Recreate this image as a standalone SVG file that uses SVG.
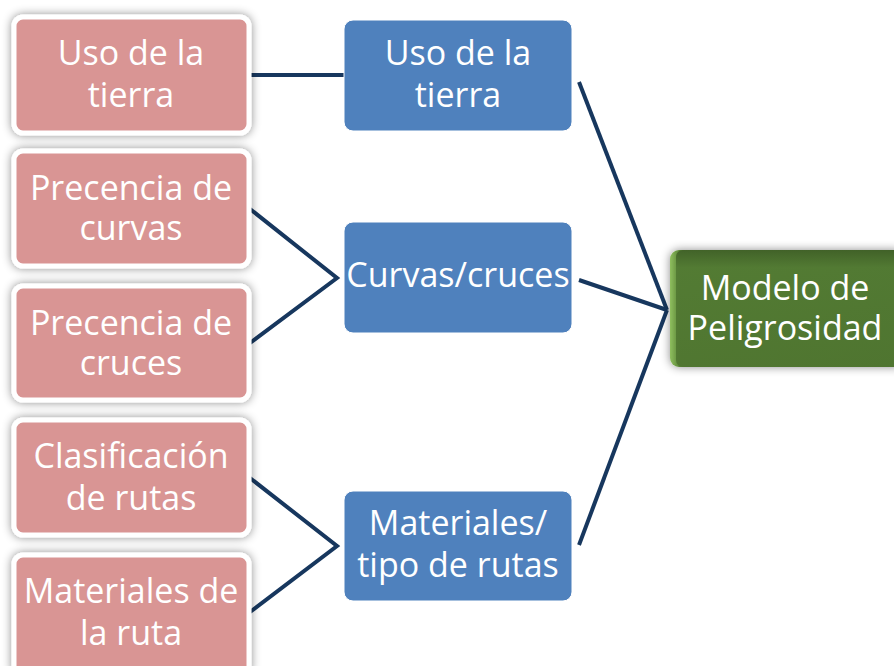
<svg xmlns="http://www.w3.org/2000/svg" width="894" height="666" viewBox="0 0 894 666">
<defs>
<filter id="sh" x="-10%" y="-15%" width="120%" height="130%">
<feDropShadow dx="0" dy="0" stdDeviation="5" flood-color="#000" flood-opacity="0.45"/>
</filter>
<linearGradient id="gg" x1="0" y1="0" x2="0" y2="1">
<stop offset="0" stop-color="#3f5f27"/>
<stop offset="0.15" stop-color="#527a33"/>
<stop offset="1" stop-color="#4f7530"/>
</linearGradient>
<linearGradient id="gs" x1="0" y1="0" x2="1" y2="0">
<stop offset="0" stop-color="#8fbf5f"/>
<stop offset="0.04" stop-color="#5a8537"/>
<stop offset="1" stop-color="#4f7530"/>
</linearGradient>
</defs>
<style>
.pk{fill:#d99594;stroke:#fff;stroke-width:5}
.bl{fill:#4f81bd;stroke:#fff;stroke-width:1}
.t{font-family:"Open Sans",Lato,sans-serif;font-size:34px;fill:#fff;text-anchor:middle;font-variant-ligatures:none}
.c{stroke:#17375e;stroke-width:4;fill:none}
</style>
<rect width="894" height="666" fill="#fff"/>
<g id="connectors">
<line class="c" x1="250" y1="75" x2="344" y2="75"/>
<polyline class="c" points="250,209 337,278 250,343"/>
<polyline class="c" points="250,478 337,546 250,612"/>
<line class="c" x1="579" y1="82" x2="667" y2="310"/>
<line class="c" x1="579" y1="280" x2="667" y2="310"/>
<line class="c" x1="579" y1="545" x2="667" y2="310"/>
</g>
<g id="p1"><rect class="pk" filter="url(#sh)" x="14" y="17" width="235" height="116" rx="9"/><text class="t" x="131" y="65">Uso de la</text><text class="t" x="131" y="107">tierra</text></g>
<g id="p2"><rect class="pk" filter="url(#sh)" x="14" y="151" width="235" height="115" rx="9"/><text class="t" x="131" y="200">Precencia de</text><text class="t" x="131" y="240">curvas</text></g>
<g id="p3"><rect class="pk" filter="url(#sh)" x="14" y="286" width="235" height="114" rx="9"/><text class="t" x="131" y="335">Precencia de</text><text class="t" x="131" y="375">cruces</text></g>
<g id="p4"><rect class="pk" filter="url(#sh)" x="14" y="420" width="235" height="115" rx="9"/><text class="t" x="131" y="468">Clasificación</text><text class="t" x="131" y="510">de rutas</text></g>
<g id="p5"><rect class="pk" filter="url(#sh)" x="14" y="555" width="235" height="120" rx="9"/><text class="t" x="131" y="603">Materiales de</text><text class="t" x="131" y="645">la ruta</text></g>
<g id="b1"><rect class="bl" x="344" y="20" width="228" height="111" rx="9"/><text class="t" x="458" y="65">Uso de la</text><text class="t" x="458" y="107">tierra</text></g>
<g id="b2"><rect class="bl" x="344" y="222" width="228" height="111" rx="9"/><text class="t" x="458" y="287">Curvas/cruces</text></g>
<g id="b3"><rect class="bl" x="344" y="491" width="228" height="110" rx="9"/><text class="t" x="458" y="535">Materiales/</text><text class="t" x="458" y="577">tipo de rutas</text></g>
<g id="g1"><rect x="670" y="250" width="235" height="117" rx="9" fill="url(#gs)" filter="url(#sh)"/><rect x="676" y="250" width="230" height="117" rx="7" fill="url(#gg)" opacity="0.9"/><text class="t" x="785" y="300">Modelo de</text><text class="t" x="785" y="340">Peligrosidad</text></g>
</svg>
